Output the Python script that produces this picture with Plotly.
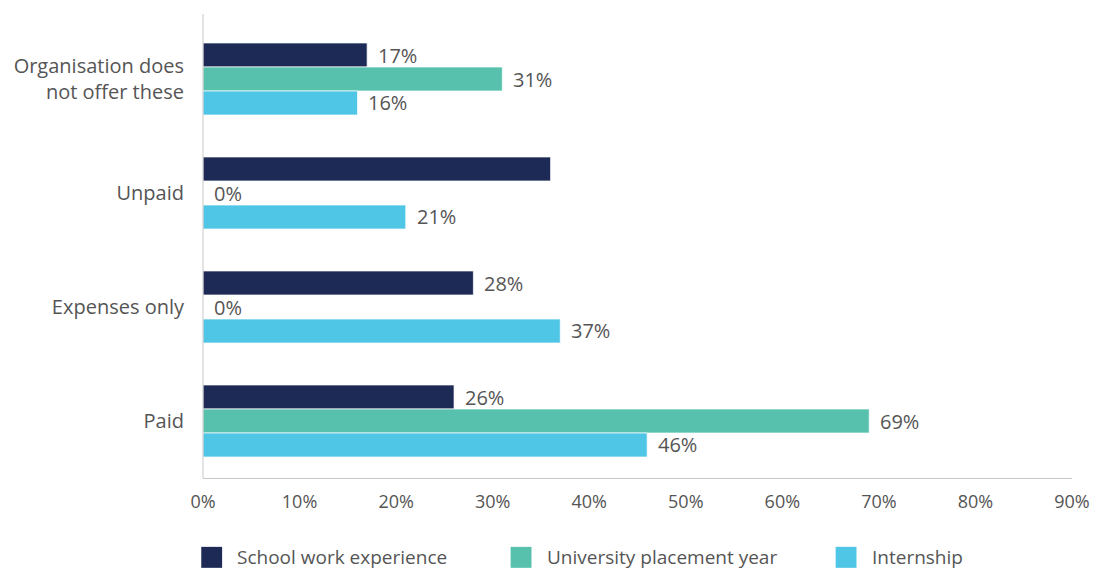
import plotly.graph_objects as go

categories = ["Organisation does<br>not offer these", "Unpaid", "Expenses only", "Paid"]
series_names = ["School work experience", "University placement year", "Internship"]
school = [17, 36, 28, 26]
school_labels = ["17%", "", "28%", "26%"]
university = [31, 0, 0, 69]
internship = [16, 21, 37, 46]
colors = ["#1d2a56", "#57c1ae", "#4fc6e5"]
tick_vals = [0, 10, 20, 30, 40, 50, 60, 70, 80, 90]
tick_text = [f"{v}%" for v in tick_vals]

FONT = "Open Sans, Lato, sans-serif"
TEXT_COLOR = "#555555"
AXIS_COLOR = "#c8c8c8"

fig = go.Figure()
all_values = [school, university, internship]
all_labels = [school_labels,
              [f"{v}%" for v in university],
              [f"{v}%" for v in internship]]

for name, vals, col in zip(series_names, all_values, colors):
    fig.add_trace(go.Bar(
        y=categories, x=vals, name=name, orientation="h",
        marker=dict(color=col, line=dict(color="rgba(255,255,255,0.7)", width=1)),
        showlegend=False,
    ))

# value labels placed just past the end of each bar
offsets = [-1, 0, 1]
annotations = []
for k, (vals, labels) in enumerate(zip(all_values, all_labels)):
    for i, (v, lab) in enumerate(zip(vals, labels)):
        if not lab:
            continue
        annotations.append(dict(
            x=v, y=i + offsets[k] * 0.21, xref="x", yref="y",
            text=lab, showarrow=False, xanchor="left", yanchor="middle",
            xshift=9,
            font=dict(family=FONT, size=20, color=TEXT_COLOR),
        ))

# legend drawn as swatches + text beneath the axis
legend_items = [(0.0, series_names[0]), (0.356, series_names[1]), (0.730, series_names[2])]
shapes = [
    # left axis line runs a little above the plotting area
    dict(type="line", xref="paper", yref="paper", x0=0, x1=0, y0=0, y1=1.0175,
         line=dict(color=AXIS_COLOR, width=1)),
]
for (px, name), col in zip(legend_items, colors):
    shapes.append(dict(type="rect", xref="paper", yref="paper",
                       x0=px - 0.002, x1=px + 0.022, y0=-0.197, y1=-0.151,
                       fillcolor=col, line=dict(width=0)))
    annotations.append(dict(x=px + 0.037, y=-0.174, xref="paper", yref="paper",
                            text=name, showarrow=False, xanchor="left", yanchor="middle",
                            font=dict(family=FONT, size=19, color=TEXT_COLOR)))

fig.update_layout(
    width=1102, height=572,
    margin=dict(l=203, r=27, t=22, b=94),
    paper_bgcolor="white", plot_bgcolor="white",
    barmode="group", bargap=0.368, bargroupgap=0,
    font=dict(family=FONT, color=TEXT_COLOR),
    xaxis=dict(range=[0, 90], tickvals=tick_vals, ticktext=tick_text,
               showgrid=False, zeroline=False, showline=True,
               linecolor=AXIS_COLOR, linewidth=1, ticks="",
               ticklabelstandoff=7,
               tickfont=dict(family=FONT, size=18, color=TEXT_COLOR)),
    yaxis=dict(autorange="reversed", showgrid=False, zeroline=False,
               showline=False, ticks="",
               ticklabelstandoff=18,
               tickfont=dict(family=FONT, size=20, color=TEXT_COLOR)),
    annotations=annotations, shapes=shapes,
)

fig.write_html("out.html")
